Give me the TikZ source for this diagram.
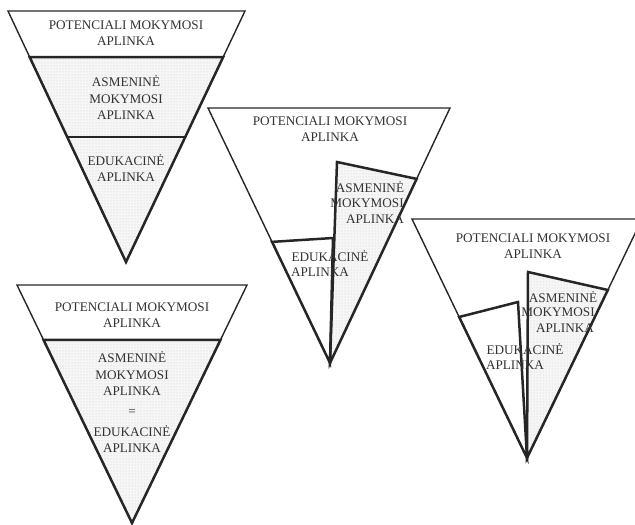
\documentclass[tikz,border=0pt]{standalone}
\usepackage{fontspec}
\setmainfont{Liberation Serif}
\usetikzlibrary{calc,patterns}
\begin{document}
\begin{tikzpicture}[x=1pt,y=-1pt,
  outer/.style={draw=black!85, line width=1.4pt, line join=miter},
  region/.style={draw=black!85, line width=2.5pt, line join=miter},
  shaded/.style={fill=gray!7, postaction={pattern=dots, pattern color=gray!40}},
  lbl/.style={font=\fontsize{13.2}{16.5}\selectfont, text=black!80, align=center, inner sep=0pt}]
\useasboundingbox (0,0) rectangle (635,525);
% ---------- triangle 1
\coordinate (a1) at (8,11);
\coordinate (b1) at (245,11);
\coordinate (c1) at (126,262);
\coordinate (l1a) at ($(a1)!0.1833!(c1)$);
\coordinate (r1a) at ($(b1)!0.1833!(c1)$);
\coordinate (l1b) at ($(a1)!0.502!(c1)$);
\coordinate (r1b) at ($(b1)!0.502!(c1)$);
\draw[outer] (a1)--(b1)--(c1)--cycle;
\path[shaded] (l1a)--(r1a)--(c1)--cycle;
\draw[region] (l1a)--(r1a)--(c1)--cycle;
\draw[region] (l1b)--(r1b);
\node[lbl] (t1p) at (126,33) {POTENCIALI MOKYMOSI\\APLINKA};
\node[lbl] (t1a) at (126,98) {ASMENINĖ\\MOKYMOSI\\APLINKA};
\node[lbl] (t1e) at (126,168) {EDUKACINĖ\\APLINKA};
% ---------- triangle 2
\coordinate (a2) at (17,285);
\coordinate (b2) at (247,285);
\coordinate (c2) at (132,523);
\coordinate (l2a) at ($(a2)!0.231!(c2)$);
\coordinate (r2a) at ($(b2)!0.231!(c2)$);
\draw[outer] (a2)--(b2)--(c2)--cycle;
\path[shaded] (l2a)--(r2a)--(c2)--cycle;
\draw[region] (l2a)--(r2a)--(c2)--cycle;
\node[lbl] (t2p) at (132,315) {POTENCIALI MOKYMOSI\\APLINKA};
\node[lbl] (t2a) at (132,374) {ASMENINĖ\\MOKYMOSI\\APLINKA};
\node[lbl] (t2q) at (132,412) {=};
\node[lbl] (t2e) at (132,439) {EDUKACINĖ\\APLINKA};
% ---------- triangle 3
\coordinate (a3) at (208,108);
\coordinate (b3) at (450,108);
\coordinate (c3) at (330,363);
\coordinate (s3a) at (337,162);
\coordinate (s3b) at ($(b3)!0.278!(c3)$);
\coordinate (e3a) at (333,238);
\coordinate (e3b) at ($(a3)!0.525!(c3)$);
\draw[outer] (a3)--(b3)--(c3)--cycle;
\path[shaded] (c3)--(s3a)--(s3b)--cycle;
\draw[region] (c3)--(s3a)--(s3b)--cycle;
\draw[region] (c3)--(e3a)--(e3b)--cycle;
\node[lbl] (t3p) at (330,129) {POTENCIALI MOKYMOSI\\APLINKA};
\node[lbl] (t3a1) at (370,187) {ASMENINĖ};
\node[lbl] (t3a2) at (367,203) {MOKYMOSI};
\node[lbl] (t3a3) at (375,219) {APLINKA};
\node[lbl] (t3e1) at (330,256) {EDUKACINĖ};
\node[lbl] (t3e2) at (320,272) {APLINKA};
% ---------- triangle 4
\coordinate (a4) at (412,219);
\coordinate (b4) at (642,219);
\coordinate (c4) at (527,458);
\coordinate (s4a) at (528,272);
\coordinate (s4b) at ($(b4)!0.297!(c4)$);
\coordinate (e4a) at (518,302);
\coordinate (e4b) at ($(a4)!0.41!(c4)$);
\draw[outer] (a4)--(b4)--(c4)--cycle;
\path[shaded] (c4)--(s4a)--(s4b)--cycle;
\draw[region] (c4)--(s4a)--(s4b)--cycle;
\draw[region] (c4)--(e4a)--(e4b)--cycle;
\node[lbl] (t4p) at (533,246) {POTENCIALI MOKYMOSI\\APLINKA};
\node[lbl] (t4a1) at (563,297) {ASMENINĖ};
\node[lbl] (t4a2) at (558,312) {MOKYMOSI};
\node[lbl] (t4a3) at (565,328) {APLINKA};
\node[lbl] (t4e1) at (525,349) {EDUKACINĖ};
\node[lbl] (t4e2) at (515,365) {APLINKA};
\end{tikzpicture}
\end{document}
